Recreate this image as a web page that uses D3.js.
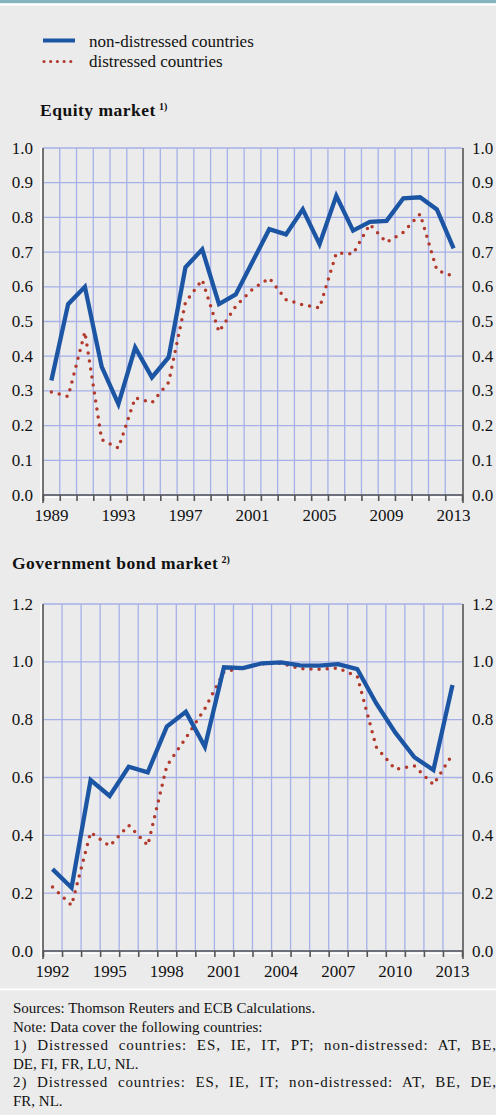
<!DOCTYPE html>
<html>
<head>
<meta charset="utf-8">
<script src="https://cdn.jsdelivr.net/npm/d3@7"></script>
<style>
  html, body { margin: 0; padding: 0; background: #ebebeb; }
  svg { display: block; }
  text { font-family: "Liberation Serif", "Times New Roman", serif; fill: #111; }
</style>
</head>
<body>
<svg id="chart" width="496" height="1115"></svg>
<script>
// ---- Equity market: correlation with the euro area, annual ----
const eqYears = [1989, 1990, 1991, 1992, 1993, 1994, 1995, 1996, 1997, 1998, 1999, 2000,
  2001, 2002, 2003, 2004, 2005, 2006, 2007, 2008, 2009, 2010, 2011, 2012, 2013];
const eqNonDistressed = [0.33, 0.55, 0.60, 0.37, 0.262, 0.425, 0.339, 0.397, 0.656, 0.708, 0.55, 0.578,
  0.672, 0.766, 0.751, 0.823, 0.723, 0.862, 0.762, 0.787, 0.79, 0.855, 0.858, 0.823, 0.711];
const eqDistressed = [0.297, 0.284, 0.47, 0.16, 0.135, 0.28, 0.266, 0.325, 0.555, 0.62, 0.47, 0.544,
  0.593, 0.625, 0.563, 0.548, 0.539, 0.697, 0.695, 0.78, 0.728, 0.757, 0.81, 0.648, 0.63];
const eqYTicks = [0, 0.1, 0.2, 0.3, 0.4, 0.5, 0.6, 0.7, 0.8, 0.9, 1.0];
const eqXLabels = [1989, 1993, 1997, 2001, 2005, 2009, 2013];

// ---- Government bond market ----
const bondYears = [1992, 1993, 1994, 1995, 1996, 1997, 1998, 1999, 2000, 2001, 2002,
  2003, 2004, 2005, 2006, 2007, 2008, 2009, 2010, 2011, 2012, 2013];
const bondNonDistressed = [0.283, 0.219, 0.591, 0.536, 0.637, 0.618, 0.776, 0.827, 0.706, 0.981, 0.978,
  0.995, 0.998, 0.988, 0.987, 0.992, 0.975, 0.856, 0.755, 0.67, 0.626, 0.92];
const bondDistressed = [0.221, 0.158, 0.41, 0.363, 0.435, 0.365, 0.64, 0.737, 0.838, 0.965, 0.98,
  0.993, 0.995, 0.976, 0.974, 0.978, 0.95, 0.705, 0.628, 0.64, 0.575, 0.68];
const bondYTicks = [0, 0.2, 0.4, 0.6, 0.8, 1.0, 1.2];
const bondXLabels = [1992, 1995, 1998, 2001, 2004, 2007, 2010, 2013];

const seriesNames = ["non-distressed countries", "distressed countries"];
const footnotes = [
  { text: "Sources: Thomson Reuters and ECB Calculations.", justify: false },
  { text: "Note: Data cover the following countries:", justify: false },
  { text: "1) Distressed countries: ES, IE, IT, PT; non-distressed: AT, BE,", justify: true },
  { text: "DE, FI, FR, LU, NL.", justify: false },
  { text: "2) Distressed countries: ES, IE, IT; non-distressed: AT, BE, DE,", justify: true },
  { text: "FR, NL.", justify: false }
];

const BLUE = "#1b55a3";
const RED = "#b23a2d";
const GRID = "#a6b1e8";
const AXIS = "#555";

const svg = d3.select("#chart");

// Header band
svg.append("rect").attr("x", 0).attr("y", 0).attr("width", 496).attr("height", 3.4).attr("fill", "#85b5bc");
svg.append("rect").attr("x", 0).attr("y", 3.4).attr("width", 496).attr("height", 2.2).attr("fill", "#fff");

// Legend
const legend = svg.append("g");
legend.append("line").attr("x1", 43).attr("x2", 75).attr("y1", 40.5).attr("y2", 40.5)
  .attr("stroke", BLUE).attr("stroke-width", 4);
legend.append("line").attr("x1", 44).attr("x2", 75).attr("y1", 61.5).attr("y2", 61.5)
  .attr("stroke", RED).attr("stroke-width", 3.2).attr("stroke-linecap", "round")
  .attr("stroke-dasharray", "0 6.7");
legend.selectAll("text.leg").data(seriesNames).join("text").attr("class", "leg")
  .attr("x", 89).attr("y", (d, i) => 46.5 + i * 20.8)
  .style("font-size", "17px").text(d => d);

function panel(opts) {
  const { years, a, b, yTicks, xLabels, yMax, left, right, top, bottom, title, note, titleX, titleY, fmt } = opts;
  const g = svg.append("g");

  const x = d3.scaleBand().domain(years).range([left, right]).padding(0);
  const y = d3.scaleLinear().domain([0, yMax]).range([bottom, top]);
  const cx = d => x(d) + x.bandwidth() / 2;

  // Title with superscript note marker
  const t = g.append("text").attr("x", titleX).attr("y", titleY)
    .style("font-size", "17.5px").style("font-weight", "bold").style("letter-spacing", "0.5px");
  t.append("tspan").text(title);
  t.append("tspan").attr("dx", 3).attr("dy", -6).style("font-size", "10px").style("letter-spacing", "0px").text(note);

  // Horizontal grid
  g.append("g").selectAll("line").data(yTicks).join("line")
    .attr("x1", left).attr("x2", right)
    .attr("y1", d => y(d)).attr("y2", d => y(d))
    .attr("stroke", GRID).attr("stroke-width", 1.3);

  // Vertical grid at year boundaries
  const bounds = years.slice(1).map(d => x(d));
  g.append("g").selectAll("line").data(bounds).join("line")
    .attr("x1", d => d).attr("x2", d => d)
    .attr("y1", top).attr("y2", bottom)
    .attr("stroke", GRID).attr("stroke-width", 1.3);

  // Axes: white highlight + dark rule
  g.append("line").attr("x1", left - 2).attr("x2", left - 2).attr("y1", top).attr("y2", bottom + 8)
    .attr("stroke", "#fff").attr("stroke-width", 1.5);
  g.append("line").attr("x1", left).attr("x2", left).attr("y1", top).attr("y2", bottom + 8)
    .attr("stroke", AXIS).attr("stroke-width", 1.6);
  g.append("line").attr("x1", right + 1).attr("x2", right + 1).attr("y1", top).attr("y2", bottom + 8)
    .attr("stroke", AXIS).attr("stroke-width", 1.6);
  g.append("line").attr("x1", left).attr("x2", right + 1).attr("y1", bottom + 2.2).attr("y2", bottom + 2.2)
    .attr("stroke", "#fff").attr("stroke-width", 1.4);
  g.append("line").attr("x1", left).attr("x2", right + 1).attr("y1", bottom).attr("y2", bottom)
    .attr("stroke", AXIS).attr("stroke-width", 1.6);

  // Tick marks at year boundaries, drawn with d3.axisBottom
  const tickAxis = d3.axisBottom(d3.scaleLinear().domain([0, years.length]).range([left, right]))
    .tickValues(d3.range(0, years.length + 1)).tickSize(6).tickFormat("");
  const ta = g.append("g").attr("transform", `translate(0,${bottom})`).call(tickAxis);
  ta.select(".domain").remove();
  ta.selectAll(".tick line").attr("stroke", AXIS).attr("stroke-width", 1.6);

  // Year labels centred on their bands
  g.append("g").selectAll("text").data(xLabels).join("text")
    .attr("x", d => cx(d)).attr("y", bottom + 26)
    .attr("text-anchor", "middle").style("font-size", "17px").text(d => d);

  // Value labels on both sides
  g.append("g").selectAll("text").data(yTicks).join("text")
    .attr("x", left - 10).attr("y", d => y(d) + 5.5)
    .attr("text-anchor", "end").style("font-size", "17px").text(d => d3.format(fmt)(d));
  g.append("g").selectAll("text").data(yTicks).join("text")
    .attr("x", right + 10).attr("y", d => y(d) + 5.5)
    .attr("text-anchor", "start").style("font-size", "17px").text(d => d3.format(fmt)(d));

  const line = d3.line().x(d => cx(d[0])).y(d => y(d[1]));

  g.append("path").datum(years.map((yr, i) => [yr, b[i]]))
    .attr("d", line).attr("fill", "none").attr("stroke", RED)
    .attr("stroke-width", 3.5).attr("stroke-linecap", "round").attr("stroke-dasharray", "0 8.1");

  g.append("path").datum(years.map((yr, i) => [yr, a[i]]))
    .attr("d", line).attr("fill", "none").attr("stroke", BLUE)
    .attr("stroke-width", 4.3).attr("stroke-linejoin", "miter");
}

panel({
  years: eqYears, a: eqNonDistressed, b: eqDistressed, yTicks: eqYTicks, xLabels: eqXLabels,
  yMax: 1.0, left: 43, right: 462, top: 148, bottom: 495,
  title: "Equity market", note: "1)", titleX: 40, titleY: 115.5, fmt: ".1f"
});

panel({
  years: bondYears, a: bondNonDistressed, b: bondDistressed, yTicks: bondYTicks, xLabels: bondXLabels,
  yMax: 1.2, left: 43, right: 462, top: 604, bottom: 951,
  title: "Government bond market", note: "2)", titleX: 12, titleY: 568.5, fmt: ".1f"
});

// Separator above the notes
svg.append("rect").attr("x", 0).attr("y", 988.5).attr("width", 496).attr("height", 1.8).attr("fill", "#fff");

// Notes; wrapped lines are justified to the right edge,
// spreading the extra room over letters and word gaps
const notes = svg.append("g");
notes.selectAll("text").data(footnotes).join("text")
  .attr("x", 13).attr("y", (d, i) => 1013 + i * 18.6)
  .style("font-size", "15px").text(d => d.text)
  .each(function (d) {
    if (!d.justify) return;
    const natural = this.getComputedTextLength();
    const target = 496 - 13;
    const extra = target - natural;
    if (extra <= 0) return;
    const chars = d.text.length - 1;
    const spaces = (d.text.match(/ /g) || []).length;
    const ls = (extra * 0.55) / chars;
    const ws = (extra * 0.45) / spaces;
    d3.select(this).style("letter-spacing", ls + "px").style("word-spacing", ws + "px");
  });
</script>
</body>
</html>
